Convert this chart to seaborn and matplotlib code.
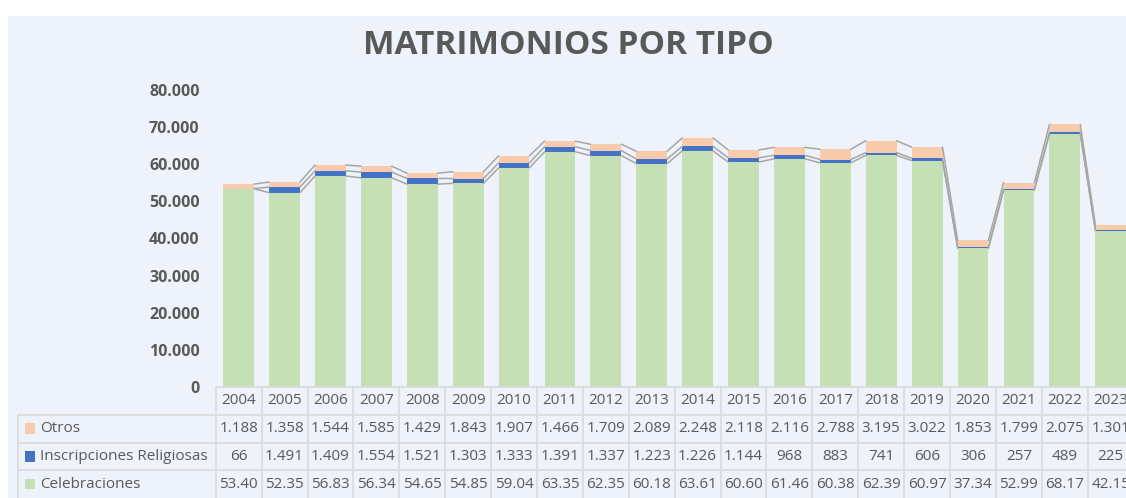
import pandas as pd
import matplotlib.pyplot as plt
import seaborn as sns
from matplotlib.patches import Rectangle

# Data (Celebraciones: last digit not visible, estimated)
years = [str(y) for y in range(2004, 2024)]
otros = [1188, 1358, 1544, 1585, 1429, 1843, 1907, 1466, 1709, 2089,
         2248, 2118, 2116, 2788, 3195, 3022, 1853, 1799, 2075, 1301]
inscripciones = [66, 1491, 1409, 1554, 1521, 1303, 1333, 1391, 1337, 1223,
                 1226, 1144, 968, 883, 741, 606, 306, 257, 489, 225]
celebraciones = [53400, 52350, 56830, 56340, 54650, 54850, 59040, 63350, 62350, 60180,
                 63610, 60600, 61460, 60380, 62390, 60970, 37340, 52990, 68170, 42150]

series_names = ["Otros", "Inscripciones Religiosas", "Celebraciones"]
colors = {"Otros": "#F8CBAD", "Inscripciones Religiosas": "#4472C4", "Celebraciones": "#C5E0B4"}
text_col = "#595959"
grid_col = "#D9D9D9"
bg = "#EEF2FA"

df = pd.DataFrame({"year": years, "Otros": otros,
                   "Inscripciones Religiosas": inscripciones,
                   "Celebraciones": celebraciones})
df["lvl_cel"] = df["Celebraciones"]
df["lvl_ins"] = df["lvl_cel"] + df["Inscripciones Religiosas"]
df["lvl_tot"] = df["lvl_ins"] + df["Otros"]

sns.set_style("white")
plt.rcParams["font.family"] = ["Open Sans", "DejaVu Sans"]

W, H = 1126, 498
fig = plt.figure(figsize=(W / 100, H / 100), dpi=100, facecolor="white")
fig.patches.append(Rectangle((8 / W, 0), 1, 1 - 16 / H, transform=fig.transFigure,
                             facecolor=bg, edgecolor="none", zorder=-10))

# main axes: 0 at y=387px, 80.000 at y=90px; columns from 215.7px, 45.9px each
ax_l, col_w = 215.7, 45.9
ax = fig.add_axes([ax_l / W, (H - 387) / H, 20 * col_w / W, 297 / H])
ax.set_facecolor("none")

bw = 0.67
sns.barplot(data=df, x="year", y="lvl_tot", color=colors["Otros"], width=bw,
            saturation=1, linewidth=0, ax=ax)
sns.barplot(data=df, x="year", y="lvl_ins", color=colors["Inscripciones Religiosas"],
            width=bw, saturation=1, linewidth=0, ax=ax)
sns.barplot(data=df, x="year", y="lvl_cel", color=colors["Celebraciones"], width=bw,
            saturation=1, linewidth=0, ax=ax)

# series lines between bars
for lvl in ["lvl_cel", "lvl_ins", "lvl_tot"]:
    v = df[lvl].values
    for i in range(len(v) - 1):
        ax.plot([i + bw / 2, i + 1 - bw / 2], [v[i], v[i + 1]],
                color="#A6A6A6", lw=1.1, zorder=5)

ax.set_xlim(-0.5, len(years) - 0.5)
ax.set_ylim(0, 80000)
ax.set_yticks(range(0, 80001, 10000))
ax.set_yticklabels([f"{t:,}".replace(",", ".") for t in range(0, 80001, 10000)],
                   fontsize=11.5, fontweight="bold", color=text_col)
ax.tick_params(axis="y", length=0, pad=11.5)
ax.set_xticks([])
ax.set_xlabel("")
ax.set_ylabel("")
for s in ax.spines.values():
    s.set_visible(False)

# data table below the axes
tax = fig.add_axes([ax_l / W, 0, 20 * col_w / W, (H - 387) / H])
tax.set_xlim(-0.5, len(years) - 0.5)
tax.set_ylim(4, 0)
tax.axis("off")
lab_x = -0.5 - (ax_l - 18) / col_w
n = len(years)
lkw = dict(color=grid_col, lw=1.2, clip_on=False)
# horizontal lines
tax.plot([-0.5, n - 0.5], [0, 0], **lkw)
for r in [1, 2, 3]:
    tax.plot([lab_x, n - 0.5], [r, r], **lkw)
# vertical lines
tax.plot([lab_x, lab_x], [1, 4], **lkw)
for i in range(n + 1):
    tax.plot([i - 0.5, i - 0.5], [0, 4], **lkw)

def fmt(v):
    s = f"{v:,}".replace(",", ".")
    return s[:5]

tkw = dict(fontsize=11, color=text_col, ha="center", va="center", clip_on=False)
for i, y in enumerate(years):
    tax.text(i, 0.5, y, **tkw)
for r, name in enumerate(series_names, start=1):
    for i, v in enumerate(df[name]):
        tax.text(i, r + 0.5, fmt(v), **tkw)
    tax.add_patch(Rectangle((lab_x + 7 / col_w, r + 0.5 - 0.19), 10 / col_w, 0.38,
                            facecolor=colors[name], edgecolor="none", clip_on=False))
    tax.text(lab_x + 22 / col_w, r + 0.5, name, fontsize=11, color=text_col,
             ha="left", va="center", clip_on=False)

fig.text(0.505, 1 - 45 / H, "MATRIMONIOS POR TIPO", fontsize=24, fontweight="bold",
         color=text_col, ha="center", va="center")

fig.savefig("out.png", dpi=100, facecolor="white")
plt.close()
